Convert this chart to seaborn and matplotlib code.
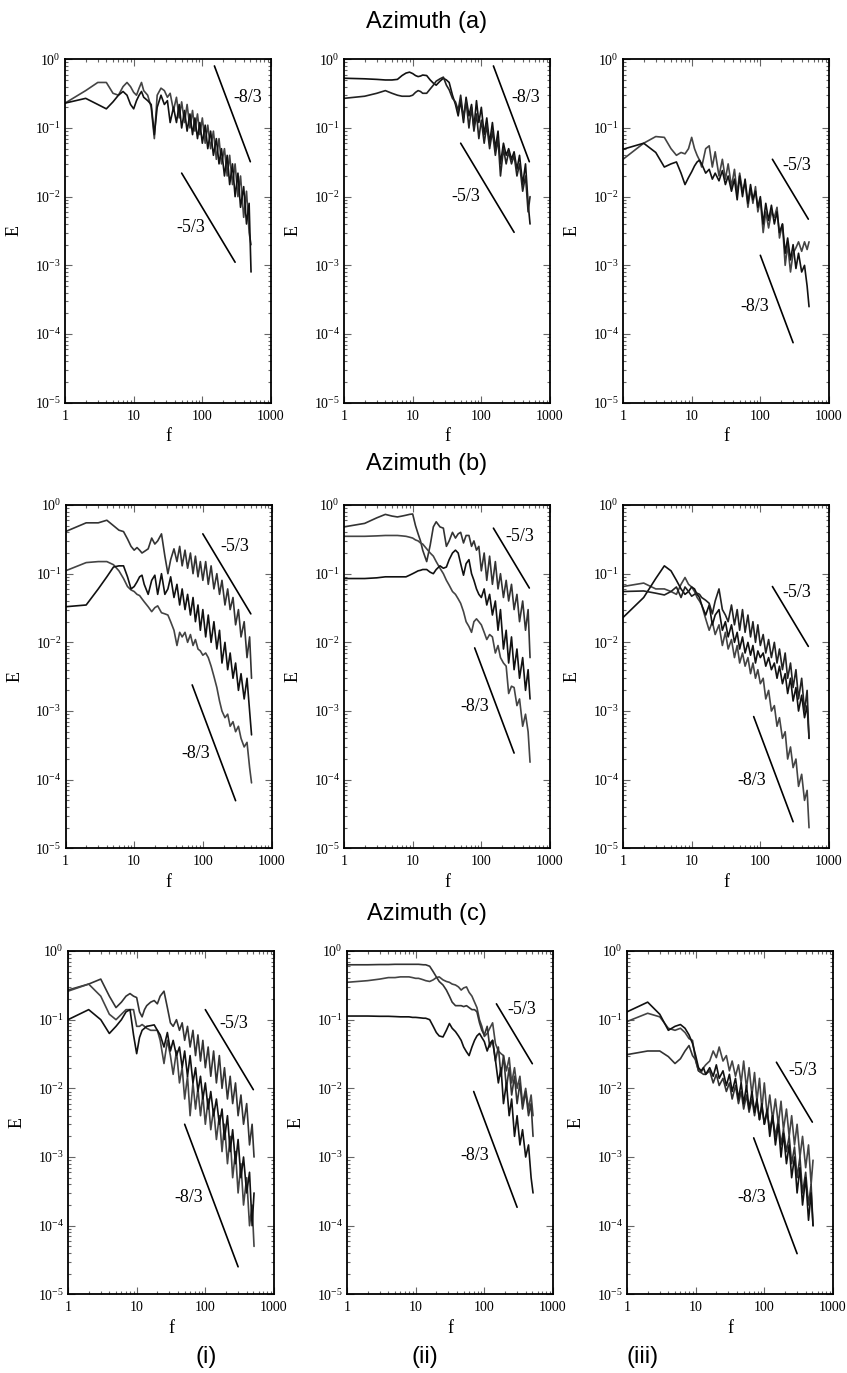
import numpy as np
import matplotlib
matplotlib.use("Agg")
import matplotlib.pyplot as plt
import seaborn as sns
from matplotlib.ticker import FixedLocator, FuncFormatter, LogLocator, NullFormatter

# ---------------- data ----------------
F = [1, 2, 3, 4, 5, 6, 7, 8, 9, 10, 11, 12, 13, 14,
     16, 18, 20, 22, 25, 28, 31, 34, 38,
     42, 46, 50, 55, 60, 66, 72, 78, 85, 92,
     100, 110, 120, 132, 145, 160, 175, 190,
     210, 230, 250, 275, 300, 330, 360, 400, 440, 480, 512]

# Azimuth (a)
A_I_1 = [.23, .27, .22, .19, .24, .30, .34, .30, .22, .19, .25, .30, .34, .28,
         .25, .22, .08, .20, .30, .22, .25, .12, .20,
         .12, .22, .10, .18, .09, .16, .08, .14, .07, .12,
         .06, .11, .05, .09, .04, .07, .03, .05,
         .02, .04, .015, .03, .01, .022, .007, .014, .004, .008, .0008]
A_I_2 = [.23, .35, .46, .46, .32, .30, .40, .46, .40, .33, .30, .38, .46, .35,
         .30, .20, .07, .30, .38, .35, .28, .32, .18,
         .28, .14, .24, .12, .22, .10, .18, .09, .16, .08,
         .14, .06, .11, .05, .09, .035, .07, .03,
         .05, .02, .04, .015, .03, .01, .02, .005, .012, .003, .002]
A_II_1 = [.53, .52, .51, .50, .50, .51, .58, .63, .65, .62, .58, .56, .57, .59,
          .58, .50, .45, .42, .48, .53, .50, .46, .30,
          .22, .15, .25, .12, .28, .15, .22, .10, .25, .12,
          .20, .08, .14, .06, .12, .05, .09, .03,
          .06, .04, .05, .035, .045, .025, .04, .015, .03, .008, .004]
A_II_2 = [.27, .29, .32, .35, .32, .30, .29, .29, .29, .30, .33, .35, .34, .32,
          .32, .37, .42, .48, .52, .55, .42, .36, .27,
          .24, .18, .30, .14, .25, .10, .20, .09, .16, .07,
          .13, .06, .11, .05, .09, .04, .07, .02,
          .05, .03, .045, .03, .04, .02, .03, .012, .02, .006, .01]
A_III_1 = [.049, .06, .044, .027, .030, .032, .022, .015, .019, .023, .028, .032, .034, .03,
           .022, .025, .018, .022, .017, .024, .015, .02, .012,
           .018, .009, .02, .010, .018, .008, .015, .009, .012, .007,
           .01, .004, .008, .0045, .0075, .004, .006, .003,
           .004, .0015, .0025, .0012, .002, .0009, .0015, .0008, .001, .0005, .00025]
A_III_2 = [.035, .06, .075, .073, .05, .04, .044, .042, .05, .073, .05, .04, .034, .027,
           .05, .055, .027, .045, .02, .035, .018, .03, .014,
           .025, .011, .022, .012, .016, .007, .013, .008, .014, .006,
           .009, .003, .006, .0035, .006, .005, .007, .0025,
           .004, .001, .002, .0008, .0015, .0018, .0022, .0016, .0022, .0017, .0022]

# Azimuth (b)
B_I_1 = [.41, .55, .55, .60, .50, .43, .41, .32, .25, .22, .24, .22, .20, .21,
         .23, .33, .27, .30, .38, .18, .10, .16, .23,
         .15, .25, .13, .22, .12, .20, .10, .18, .09, .15,
         .08, .15, .07, .13, .06, .10, .05, .08,
         .035, .06, .03, .045, .018, .03, .012, .02, .006, .012, .003]
B_I_2 = [.033, .035, .06, .09, .125, .13, .13, .09, .06, .065, .076, .09, .095, .07,
         .05, .08, .095, .05, .10, .05, .06, .09, .045,
         .07, .035, .06, .03, .05, .025, .045, .02, .035, .015,
         .03, .012, .025, .01, .02, .008, .015, .005,
         .01, .004, .007, .003, .005, .002, .0035, .0015, .003, .001, .00045]
B_I_3 = [.11, .145, .15, .15, .135, .11, .085, .065, .058, .055, .05, .048, .043, .039,
         .033, .028, .032, .034, .027, .026, .025, .02, .015,
         .009, .014, .012, .014, .01, .013, .009, .011, .008, .0075,
         .0065, .007, .006, .0045, .0032, .0022, .0014, .001,
         .0008, .0009, .0006, .0007, .0005, .0006, .0004, .0003, .00035, .00015, .00009]
B_II_1 = [.48, .54, .65, .73, .69, .67, .69, .71, .73, .74, .50, .38, .30, .22,
          .15, .26, .48, .57, .48, .46, .25, .30, .40,
          .33, .38, .40, .28, .36, .36, .25, .30, .22, .25,
          .11, .20, .08, .18, .07, .15, .06, .10,
          .045, .08, .04, .07, .03, .05, .02, .04, .015, .03, .006]
B_II_2 = [.085, .085, .087, .09, .09, .09, .09, .09, .095, .10, .105, .11, .112, .115,
          .115, .105, .10, .115, .13, .12, .125, .16, .20,
          .22, .20, .14, .095, .14, .16, .10, .08, .06, .05,
          .045, .06, .035, .05, .025, .04, .015, .03,
          .008, .015, .005, .012, .004, .008, .003, .006, .002, .004, .0015]
B_II_3 = [.35, .35, .355, .36, .36, .36, .355, .35, .34, .33, .31, .30, .28, .27,
          .23, .20, .18, .15, .12, .10, .08, .068, .055,
          .05, .043, .037, .028, .02, .017, .014, .02, .022, .02,
          .018, .014, .011, .013, .012, .007, .009, .006,
          .005, .0045, .0018, .0023, .0022, .0012, .0015, .0006, .0009, .0005, .00018]
B_III_1 = [.023, .045, .085, .13, .11, .08, .06, .05, .055, .064, .06, .05, .045, .035,
           .025, .035, .018, .025, .03, .015, .02, .012, .018,
           .01, .014, .008, .012, .007, .01, .0065, .009, .005, .0075,
           .006, .007, .0045, .006, .004, .005, .003, .0045,
           .0025, .0035, .0018, .003, .0014, .0022, .001, .0017, .0008, .0012, .0004]
B_III_2 = [.065, .073, .06, .06, .055, .05, .07, .088, .07, .064, .055, .045, .04, .035,
           .022, .015, .02, .013, .018, .009, .014, .008, .011,
           .006, .009, .005, .007, .0045, .006, .0035, .005, .003, .004,
           .0025, .003, .0015, .002, .001, .0012, .0006, .0008,
           .0004, .0005, .0002, .0003, .00015, .0002, .00008, .00012, .00005, .00007, .00002]
B_III_3 = [.055, .056, .052, .049, .055, .064, .045, .064, .055, .047, .05, .052, .05, .045,
           .041, .037, .026, .04, .06, .03, .025, .02, .035,
           .018, .03, .015, .03, .014, .025, .012, .02, .01, .018,
           .009, .013, .007, .011, .006, .01, .005, .008,
           .004, .007, .003, .005, .0022, .004, .0015, .003, .001, .002, .0004]

# Azimuth (c)
C_I_1 = [.10, .14, .10, .063, .08, .10, .13, .14, .06, .032, .055, .07, .075, .08,
         .082, .084, .07, .06, .04, .065, .035, .05, .03,
         .04, .02, .035, .015, .03, .012, .02, .009, .015, .007,
         .012, .005, .009, .004, .007, .003, .005, .0018,
         .004, .0012, .0025, .0008, .0018, .0005, .001, .0003, .0006, .0001, .0003]
C_I_2 = [.27, .33, .39, .22, .15, .18, .22, .24, .22, .21, .13, .11, .14, .16,
         .18, .19, .17, .22, .26, .15, .09, .08, .10,
         .07, .09, .05, .08, .04, .07, .03, .06, .025, .05,
         .02, .04, .015, .035, .012, .03, .01, .02,
         .007, .015, .006, .012, .004, .008, .003, .006, .0015, .003, .001]
C_I_3 = [.26, .33, .22, .12, .10, .12, .14, .14, .14, .08, .08, .085, .08, .075,
         .07, .07, .07, .05, .023, .05, .03, .016, .035,
         .012, .02, .007, .015, .004, .012, .005, .01, .004, .008,
         .003, .007, .0025, .005, .0018, .004, .0012, .003,
         .0008, .002, .0005, .0012, .0003, .0008, .0002, .0005, .0001, .0002, .00005]
C_II_1 = [.63, .63, .635, .635, .64, .64, .64, .64, .64, .64, .64, .635, .63, .63,
          .60, .50, .42, .36, .32, .27, .22, .18, .16,
          .16, .16, .155, .16, .15, .14, .14, .13, .09, .07,
          .06, .08, .04, .05, .025, .04, .015, .03,
          .01, .02, .008, .015, .006, .012, .005, .009, .004, .006, .002]
C_II_2 = [.35, .37, .39, .41, .41, .42, .42, .42, .41, .40, .40, .39, .38, .37,
          .36, .38, .41, .42, .38, .36, .35, .33, .32,
          .30, .27, .29, .30, .25, .22, .18, .15, .10, .08,
          .057, .063, .075, .09, .045, .035, .032, .03,
          .018, .028, .012, .02, .01, .015, .006, .01, .005, .008, .004]
C_II_3 = [.113, .113, .112, .112, .111, .11, .11, .11, .108, .108, .107, .106, .105, .105,
          .10, .08, .065, .058, .056, .07, .088, .075, .067,
          .058, .05, .04, .034, .03, .04, .05, .058, .063, .055,
          .048, .035, .045, .05, .026, .012, .02, .006,
          .012, .004, .007, .002, .004, .0015, .0025, .001, .0015, .0005, .0003]
C_III_1 = [.13, .18, .12, .07, .08, .085, .075, .06, .045, .03, .02, .018, .02, .016,
           .02, .015, .022, .014, .018, .011, .016, .009, .014,
           .007, .012, .006, .011, .005, .009, .0045, .007, .0035, .006,
           .003, .005, .002, .004, .0015, .003, .001, .0022,
           .0008, .0015, .0005, .001, .0003, .0007, .0002, .0005, .00012, .0003, .0001]
C_III_2 = [.094, .124, .11, .075, .07, .075, .065, .053, .05, .025, .018, .017, .02, .022,
           .025, .035, .028, .04, .025, .03, .018, .025, .015,
           .022, .012, .025, .01, .02, .008, .017, .0065, .014, .005,
           .012, .004, .008, .0035, .007, .003, .0065, .0025,
           .005, .002, .004, .0015, .003, .001, .002, .0007, .0015, .0004, .0009]
C_III_3 = [.031, .035, .035, .029, .023, .027, .035, .042, .03, .026, .018, .017, .016, .016,
           .018, .012, .016, .011, .014, .009, .012, .007, .011,
           .006, .009, .005, .008, .0045, .007, .004, .0065, .0035, .0055,
           .003, .0045, .0025, .004, .002, .0035, .0015, .0025,
           .0012, .002, .0008, .0014, .0005, .001, .0003, .0006, .0002, .0004, .0001]

# reference power-law slopes: (f_start, f_end, E_at_f_start, label)
SLOPES = [
    [(150, 500, 0.80, "-8/3"), (50, 300, 0.022, "-5/3")],
    [(150, 500, 0.80, "-8/3"), (50, 300, 0.060, "-5/3")],
    [(150, 500, 0.035, "-5/3"), (100, 300, 0.0014, "-8/3")],
    [(100, 500, 0.38, "-5/3"), (70, 300, 0.0024, "-8/3")],
    [(150, 500, 0.46, "-5/3"), (80, 300, 0.0083, "-8/3")],
    [(150, 500, 0.065, "-5/3"), (80, 300, 0.00083, "-8/3")],
    [(100, 500, 0.14, "-5/3"), (50, 300, 0.003, "-8/3")],
    [(150, 500, 0.17, "-5/3"), (70, 300, 0.009, "-8/3")],
    [(150, 500, 0.024, "-5/3"), (70, 300, 0.0019, "-8/3")],
]
SLOPE_LABEL_POS = [
    [(456, 0.28), (67, 0.0036)],
    [(440, 0.28), (60, 0.010)],
    [(335, 0.028), (83, 2.5e-4)],
    [(292, 0.25), (78, 2.4e-4)],
    [(365, 0.35), (79, 1.15e-3)],
    [(335, 0.054), (75, 9.8e-5)],
    [(263, 0.089), (58, 2.6e-4)],
    [(352, 0.14), (72, 1.07e-3)],
    [(362, 0.0185), (66, 2.6e-4)],
]
ROW_TITLES = ["Azimuth (a)", "Azimuth (b)", "Azimuth (c)"]
COL_TITLES = ["(i)", "(ii)", "(iii)"]
X_TICKS = [1, 10, 100, 1000]
X_TICK_LABELS = ["1", "10", "100", "1000"]

DARK = "#111111"
GRAY = "#444444"
PANEL_CURVES = [
    [(A_I_2, GRAY), (A_I_1, DARK)],
    [(A_II_1, DARK), (A_II_2, "#222222")],
    [(A_III_2, GRAY), (A_III_1, DARK)],
    [(B_I_1, "#333333"), (B_I_3, GRAY), (B_I_2, DARK)],
    [(B_II_1, "#333333"), (B_II_3, GRAY), (B_II_2, DARK)],
    [(B_III_2, GRAY), (B_III_1, DARK), (B_III_3, "#222222")],
    [(C_I_2, "#333333"), (C_I_3, GRAY), (C_I_1, DARK)],
    [(C_II_2, GRAY), (C_II_1, "#333333"), (C_II_3, DARK)],
    [(C_III_2, GRAY), (C_III_3, "#333333"), (C_III_1, DARK)],
]
for curves in PANEL_CURVES:
    for c, _ in curves:
        assert len(c) == len(F)

# ---------------- style ----------------
sns.set_theme(style="ticks")
plt.rcParams["font.family"] = ["Liberation Serif", "DejaVu Serif"]
plt.rcParams["mathtext.fontset"] = "custom"
plt.rcParams["mathtext.rm"] = "Liberation Serif"
for k in ["text.color", "axes.labelcolor", "xtick.labelcolor", "ytick.labelcolor"]:
    plt.rcParams[k] = "black"

W, H = 847, 1373
fig = plt.figure(figsize=(W / 100, H / 100), dpi=100)

row_tops = [59.3, 505.0, 951.0]
row_h = 343.4
col_lefts = [[65, 344, 623], [65.5, 344, 623], [68, 347, 627]]
ax_w = 206


def yfmt(v, pos):
    e = int(round(np.log10(v)))
    return r"$\mathregular{10^{%d}}$" % e


def xfmt(v, pos):
    k = int(round(v))
    return X_TICK_LABELS[X_TICKS.index(k)] if k in X_TICKS else ""


for i in range(9):
    r, c = divmod(i, 3)
    left = col_lefts[r][c]
    top = row_tops[r]
    ax = fig.add_axes([left / W, 1 - (top + row_h) / H, ax_w / W, row_h / H])
    ax.set_xscale("log")
    ax.set_yscale("log")
    for vals, col in PANEL_CURVES[i]:
        sns.lineplot(x=F, y=vals, ax=ax, color=col, lw=1.2,
                     estimator=None, sort=False)
    for (f0, f1, e0, lab), (lx, ly) in zip(SLOPES[i], SLOPE_LABEL_POS[i]):
        s = -8 / 3 if lab == "-8/3" else -5 / 3
        e1 = e0 * (f1 / f0) ** s
        sns.lineplot(x=[f0, f1], y=[e0, e1], ax=ax, color="black", lw=1.2,
                     estimator=None, sort=False)
        ax.text(lx, ly, lab, ha="center", va="center", fontsize=13)
    ax.set_xlim(1, 1000)
    ax.set_ylim(1e-5, 1)
    ax.xaxis.set_major_locator(FixedLocator(X_TICKS))
    ax.xaxis.set_major_formatter(FuncFormatter(xfmt))
    ax.xaxis.set_minor_locator(LogLocator(base=10, subs=np.arange(2, 10)))
    ax.xaxis.set_minor_formatter(NullFormatter())
    ax.yaxis.set_major_locator(LogLocator(base=10, numticks=10))
    ax.yaxis.set_major_formatter(FuncFormatter(yfmt))
    ax.yaxis.set_minor_locator(LogLocator(base=10, subs=np.arange(2, 10), numticks=10))
    ax.yaxis.set_minor_formatter(NullFormatter())
    ax.tick_params(which="both", direction="in", top=True, right=True,
                   color="#666666", width=0.8)
    ax.tick_params(which="major", length=5)
    ax.tick_params(which="minor", length=2.5)
    ax.tick_params(axis="x", which="major", labelsize=10, pad=5)
    ax.tick_params(axis="y", which="major", labelsize=10, pad=3)
    for sp in ax.spines.values():
        sp.set_linewidth(1.3)
        sp.set_color("black")
    ax.set_xlabel("f", fontsize=13)
    ax.set_ylabel("E", fontsize=13)
    ax.xaxis.set_label_coords(0.5, -0.075)
    ax.yaxis.set_label_coords(-0.205, 0.5)

title_y = [22, 464, 914]
for t, y in zip(ROW_TITLES, title_y):
    fig.text(427 / W, 1 - y / H, t, ha="center", va="center", fontsize=17,
             color="black", family=["Liberation Sans", "DejaVu Sans"])
for t, x in zip(COL_TITLES, [206, 425, 643]):
    fig.text(x / W, 1 - 1357 / H, t, ha="center", va="center", fontsize=17,
             color="black", family=["Liberation Sans", "DejaVu Sans"])

fig.savefig("out.png", dpi=100)
